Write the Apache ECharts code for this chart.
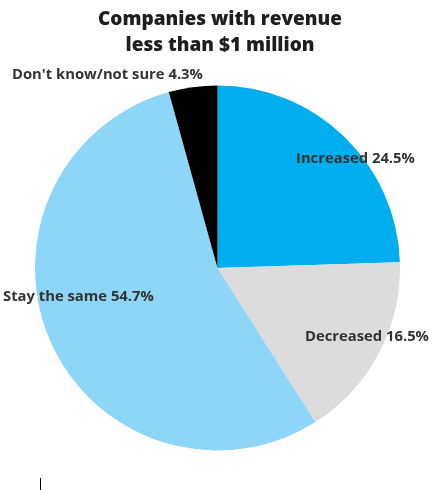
<!DOCTYPE html>
<html>
<head>
<meta charset="utf-8">
<script src="https://cdn.jsdelivr.net/npm/echarts@6/dist/echarts.min.js"></script>
<style>
  html, body { margin: 0; padding: 0; background: #fff; }
  #chart { width: 446px; height: 490px; }
</style>
</head>
<body>
<div id="chart"></div>
<script>
// Survey answers, clockwise from 12 o'clock
const categories = ['Increased', 'Decreased', 'Stay the same', "Don't know/not sure"];
const shares = [24.5, 16.5, 54.7, 4.3];
const sliceColors = ['#00aeef', '#dcdcdc', '#8dd6f7', '#000000'];

// Label anchor points (left edge, vertical middle) in pixels
const labelSpots = [[296, 159], [305, 337], [3, 297], [12, 75]];

const chart = echarts.init(document.getElementById('chart'), null, { renderer: 'canvas' });

chart.setOption({
  animation: false,
  title: {
    text: 'Companies with revenue\nless than $1 million',
    left: 215,
    top: 2,
    textAlign: 'center',
    textStyle: {
      fontFamily: 'Open Sans',
      fontWeight: 800,
      fontSize: 19,
      lineHeight: 26,
      color: '#1e1e1e'
    }
  },
  graphic: [{
    type: 'line',
    shape: { x1: 40.5, y1: 478, x2: 40.5, y2: 490 },
    style: { stroke: '#000', lineWidth: 1 }
  }],
  series: [{
    type: 'pie',
    center: [217.5, 268],
    radius: 182.5,
    startAngle: 90,
    clockwise: true,
    silent: true,
    avoidLabelOverlap: false,
    itemStyle: { borderWidth: 0 },
    label: {
      show: true,
      position: 'outside',
      overflow: 'none',
      formatter: p => p.name + ' ' + p.value + '%',
      fontFamily: 'Open Sans',
      fontWeight: 'bold',
      fontSize: 14.8,
      color: '#333'
    },
    labelLine: { show: false },
    labelLayout: p => ({
      x: labelSpots[p.dataIndex][0],
      y: labelSpots[p.dataIndex][1],
      align: 'left',
      verticalAlign: 'middle',
      hideOverlap: false,
      moveOverlap: null
    }),
    data: categories.map((name, i) => ({
      name,
      value: shares[i],
      itemStyle: { color: sliceColors[i] }
    }))
  }]
});
</script>
</body>
</html>
